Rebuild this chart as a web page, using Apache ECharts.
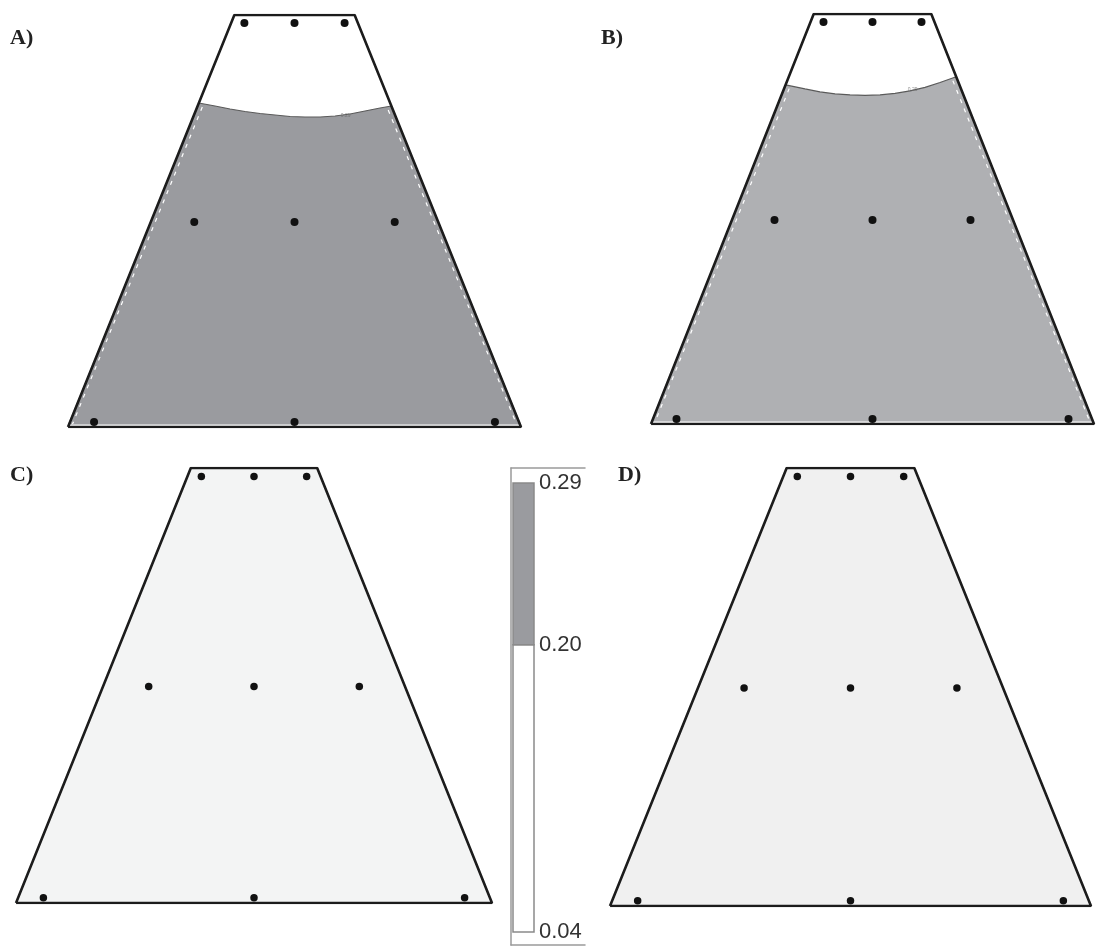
<!DOCTYPE html>
<html>
<head>
<meta charset="utf-8">
<script src="https://cdn.jsdelivr.net/npm/echarts@6/dist/echarts.min.js"></script>
<style>
  html, body { margin: 0; padding: 0; background: #fff; }
  #main { width: 1097px; height: 946px; }
</style>
</head>
<body>
<div id="main"></div>
<script>
// section outline (same shape for the four panels), in model units
var outline = [[-2.26, 0], [2.26, 0], [0.6, 4.12], [-0.6, 4.12], [-2.26, 0]];
// sensor points
var sensors = [[-2, 0.05], [0, 0.05], [2, 0.05], [-1, 2.05], [0, 2.05], [1, 2.05], [-0.5, 4.04], [0, 4.04], [0.5, 4.04]];

var contourA = [[-0.955, 3.24], [-0.793, 3.21], [-0.643, 3.18], [-0.494, 3.155], [-0.344, 3.135], [-0.194, 3.12],
    [-0.044, 3.105], [0.105, 3.10], [0.255, 3.10], [0.405, 3.11], [0.554, 3.13], [0.704, 3.16], [0.854, 3.19], [0.967, 3.21]];
var contourB = [[-0.887, 3.407], [-0.689, 3.367], [-0.536, 3.337], [-0.382, 3.317], [-0.229, 3.307], [-0.076, 3.302],
    [0.077, 3.307], [0.230, 3.322], [0.383, 3.347], [0.536, 3.382], [0.689, 3.432], [0.854, 3.49]];
var labelA = [[0.51, 3.11]];
var labelB = [[0.41, 3.36]];

// colour scale
var scaleBreaks = [0.04, 0.20, 0.29];
var scaleColors = ['#ffffff', '#9a9b9f'];
var scaleLabels = [0.04, 0.20, 0.29];

var panelNames = ['A)', 'B)', 'C)', 'D)'];

var myChart = echarts.init(document.getElementById('main'));

// gray region below the contour, closed along the bottom
function belowContour(c) {
    return c.concat([[2.26, 0.025], [-2.26, 0.025]]);
}

function polygonSeries(idx, pts, color) {
    return {
        type: 'custom',
        xAxisIndex: idx,
        yAxisIndex: idx,
        silent: true,
        data: [[0, 0]],
        renderItem: function (params, api) {
            return {
                type: 'polygon',
                shape: { points: pts.map(function (p) { return api.coord(p); }) },
                style: { fill: color }
            };
        },
        z: 1
    };
}

function lineSeries(idx, pts, color, width, dashed, z) {
    return {
        type: 'line',
        xAxisIndex: idx,
        yAxisIndex: idx,
        data: pts,
        symbol: 'none',
        silent: true,
        lineStyle: { color: color, width: width, type: dashed ? [4, 6] : 'solid' },
        z: z
    };
}

function dotSeries(idx, size) {
    return {
        type: 'scatter',
        xAxisIndex: idx,
        yAxisIndex: idx,
        data: sensors,
        symbolSize: size,
        itemStyle: { color: '#111111', opacity: 1 },
        silent: true,
        z: 6
    };
}

function tagSeries(idx, pts) {
    return {
        type: 'scatter',
        xAxisIndex: idx,
        yAxisIndex: idx,
        data: pts,
        symbolSize: 0,
        silent: true,
        label: { show: true, formatter: '0.29', fontSize: 5, color: '#6a6a6a', position: 'inside' },
        z: 5
    };
}

var grids = [
    { left: 68, top: 15, width: 453, height: 412 },
    { left: 651, top: 14, width: 443, height: 410 },
    { left: 16, top: 468, width: 476, height: 435 },
    { left: 610, top: 468, width: 481, height: 438 },
    // colour bar
    { left: 513, top: 483, width: 21, height: 449 },
    // frame round the colour bar
    { left: 511, top: 468, width: 74, height: 477 }
];

var xAxes = [], yAxes = [];
for (var i = 0; i < 4; i++) {
    xAxes.push({ gridIndex: i, type: 'value', min: -2.26, max: 2.26, show: false });
    yAxes.push({ gridIndex: i, type: 'value', min: 0, max: 4.12, show: false });
}
xAxes.push({ gridIndex: 4, type: 'value', min: 0, max: 1, show: false });
yAxes.push({
    gridIndex: 4, type: 'value', min: 0.04, max: 0.29, position: 'right',
    axisLine: { show: false }, axisTick: { show: false }, splitLine: { show: false },
    axisLabel: {
        customValues: scaleLabels, margin: 5, fontSize: 22, color: '#333',
        fontFamily: 'Liberation Sans', formatter: function (v) { return v.toFixed(2); }
    }
});
var frameLine = { show: true, onZero: false, lineStyle: { color: '#9a9a9a', width: 1.5 } };
xAxes.push({ gridIndex: 5, type: 'value', min: 0, max: 1, position: 'top', axisLine: frameLine, axisTick: { show: false }, axisLabel: { show: false }, splitLine: { show: false } });
xAxes.push({ gridIndex: 5, type: 'value', min: 0, max: 1, position: 'bottom', axisLine: frameLine, axisTick: { show: false }, axisLabel: { show: false }, splitLine: { show: false } });
yAxes.push({ gridIndex: 5, type: 'value', min: 0, max: 1, position: 'left', axisLine: frameLine, axisTick: { show: false }, axisLabel: { show: false }, splitLine: { show: false } });

var series = [];
// A
series.push(polygonSeries(0, belowContour(contourA), '#9a9b9f'));
series.push(lineSeries(0, [[-0.92, 3.2], [-2.215, 0.03]], '#ffffff', 1.2, true, 2));
series.push(lineSeries(0, [[0.935, 3.17], [2.215, 0.03]], '#ffffff', 1.2, true, 2));
series.push(lineSeries(0, contourA, '#5a5a5a', 1.2, false, 3));
series.push(tagSeries(0, labelA));
// B
series.push(polygonSeries(1, belowContour(contourB), '#afb0b3'));
series.push(lineSeries(1, [[-0.85, 3.37], [-2.215, 0.03]], '#ffffff', 1.2, true, 2));
series.push(lineSeries(1, [[0.82, 3.45], [2.215, 0.03]], '#ffffff', 1.2, true, 2));
series.push(lineSeries(1, contourB, '#5a5a5a', 1.2, false, 3));
series.push(tagSeries(1, labelB));
// C, D
series.push(polygonSeries(2, outline, '#f3f4f4'));
series.push(polygonSeries(3, outline, '#f0f0f0'));
for (var k = 0; k < 4; k++) {
    series.push(lineSeries(k, outline, '#1c1c1c', 2.6, false, 4));
    series.push(dotSeries(k, k < 2 ? 8 : 7.5));
}
// colour bar
series.push({
    type: 'custom',
    xAxisIndex: 4,
    yAxisIndex: 4,
    silent: true,
    data: scaleColors.map(function (c, j) { return [scaleBreaks[j], scaleBreaks[j + 1]]; }),
    renderItem: function (params, api) {
        var lo = api.coord([0, api.value(0)]);
        var hi = api.coord([1, api.value(1)]);
        return {
            type: 'rect',
            shape: { x: lo[0], y: hi[1], width: hi[0] - lo[0], height: lo[1] - hi[1] },
            style: { fill: scaleColors[params.dataIndex], stroke: '#8a8a8a', lineWidth: 1.5 }
        };
    }
});
series.push({ type: 'line', xAxisIndex: 5, yAxisIndex: 5, data: [], silent: true });

var titlePos = [[10, 27], [601, 27], [10, 464], [618, 464]];
var titles = panelNames.map(function (t, j) {
    return {
        text: t, left: titlePos[j][0], top: titlePos[j][1], padding: 0,
        textStyle: { fontFamily: 'Liberation Serif', fontWeight: 'bold', fontSize: 22, color: '#222' }
    };
});

option = {
    backgroundColor: '#ffffff',
    animation: false,
    title: titles,
    grid: grids,
    xAxis: xAxes,
    yAxis: yAxes,
    series: series
};
myChart.setOption(option);
</script>
</body>
</html>
